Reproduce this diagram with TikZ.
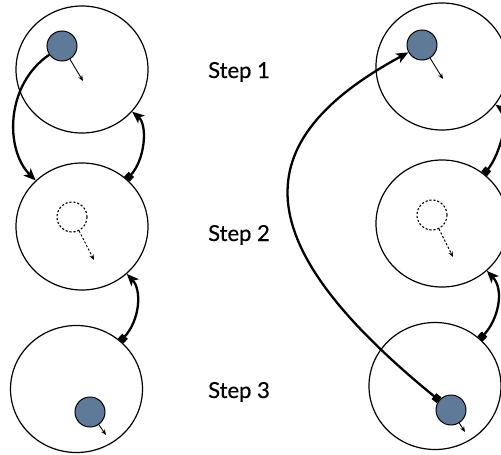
\documentclass[tikz,border=0pt]{standalone}
\usepackage{fontspec}
\setmainfont{Lato}
\newfontfamily\stepfont{Lato}[FakeBold=0.5]
\usetikzlibrary{arrows.meta,shapes.geometric}
\definecolor{ballblue}{RGB}{95,122,153}
\begin{document}
\begin{tikzpicture}[x=1pt,y=-1pt,
  cell/.style={draw,ellipse,minimum width=132pt,minimum height=127pt,inner sep=0pt,line width=1.2pt},
  ball/.style={draw,circle,fill=ballblue,minimum size=30pt,inner sep=0pt,line width=1pt},
  ghost/.style={draw,circle,minimum size=30pt,inner sep=0pt,line width=1.1pt,dash pattern=on 2.2pt off 1.8pt},
  motion/.style={line width=0.9pt,-{Stealth[length=5.5pt,width=4.5pt]}},
  ghostmotion/.style={motion,dash pattern=on 2.2pt off 1.8pt},
  jump/.style={line width=2.3pt,-{Stealth[length=12pt,width=10pt,inset=3pt]}},
  pairarrow/.style={line width=2.3pt,{Square[length=6.5pt,width=7.5pt]}-{Stealth[length=12pt,width=10pt,inset=3pt]}},
  steplabel/.style={font=\stepfont\fontsize{22}{26}\selectfont,anchor=base}
]
\useasboundingbox (0,0) rectangle (501,455);

% cells, left column
\node[cell] (L1) at (82,69.5) {};
\node[cell] (L2) at (82,226.5) {};
\node[cell] (L3) at (76.5,389) {};
% cells, right column
\node[cell] (R1) at (442,66.5) {};
\node[cell] (R2) at (442,223.5) {};
\node[cell] (R3) at (435,386) {};

% particles
\node[ball]  (b1) at (62,46) {};
\node[ghost] (g2) at (72,217) {};
\node[ball]  (b3) at (90,412) {};
\node[ball]  (c1) at (422,45) {};
\node[ghost] (h2) at (432,215) {};
\node[ball]  (c3) at (451,410) {};

% velocity ends
\coordinate (b1v) at (83,81);
\coordinate (g2v) at (94,260);
\coordinate (b3v) at (106,435);
\coordinate (c1v) at (443,79);
\coordinate (h2v) at (453,257);
\coordinate (c3v) at (465,432);

\draw[motion] (b1) -- (b1v);
\draw[ghostmotion] (g2) -- (g2v);
\draw[motion] (b3) -- (b3v);
\draw[motion] (c1) -- (c1v);
\draw[ghostmotion] (h2) -- (h2v);
\draw[motion] (c3) -- (c3v);

% step labels
\node[steplabel] (s1) at (239,78) {Step 1};
\node[steplabel] (s2) at (239,241) {Step 2};
\node[steplabel] (s3) at (239,398) {Step 3};

% transitions
\draw[jump] (b1) .. controls (5,85) and (5,150) .. (L2);
\draw[pairarrow] (L2) .. controls (145,160) and (148,125) .. (L1);
\draw[pairarrow] (L3) .. controls (140,320) and (142,290) .. (L2);
\draw[pairarrow] (R2) .. controls (500,155) and (510,115) .. (R1);
\draw[pairarrow] (R3) .. controls (498,320) and (505,290) .. (R2);
\draw[pairarrow] (c3) .. controls (246,243) and (243,142) .. (c1);
\end{tikzpicture}
\end{document}
